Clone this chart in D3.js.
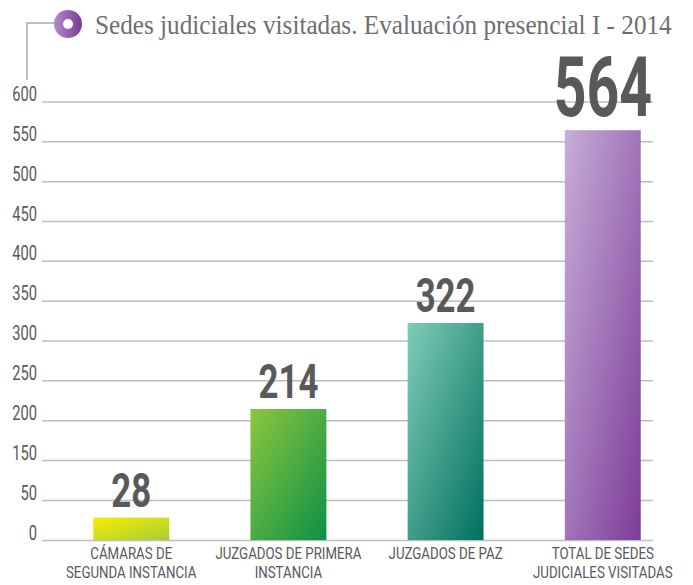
<!DOCTYPE html>
<html>
<head>
<meta charset="utf-8">
<script src="https://cdn.jsdelivr.net/npm/d3@7"></script>
<style>
  body { margin: 0; background: #fff; }
  svg { display: block; }
</style>
</head>
<body>
<div id="chart"></div>
<script>
const title = "Sedes judiciales visitadas. Evaluación presencial I - 2014";
const categories = [
  ["CÁMARAS DE", "SEGUNDA INSTANCIA"],
  ["JUZGADOS DE PRIMERA", "INSTANCIA"],
  ["JUZGADOS DE PAZ"],
  ["TOTAL DE SEDES", "JUDICIALES VISITADAS"]
];
const values = [28, 214, 322, 564];
const tickValues = [0, 50, 150, 200, 250, 300, 350, 400, 450, 500, 550, 600];
const barColors = [
  ["#f8ec00", "#a6ce39"],
  ["#8dc63f", "#0b9146"],
  ["#80ccb7", "#00705e"],
  ["#c6aed8", "#7d3c98"]
];

const width = 693, height = 585;
const textColor = "#58595b";

const svg = d3.select("#chart").append("svg")
  .attr("width", width)
  .attr("height", height);

const defs = svg.append("defs");

// the printed axis skips 100, so the scale is piecewise
const y = d3.scaleLinear()
  .domain([0, 50, 150, 600])
  .range([540, 500, 460, 101.5]);

const x = d3.scaleBand()
  .domain(d3.range(values.length))
  .range([12, 722])
  .padding(0.517);

// gradients
barColors.forEach((c, i) => {
  const g = defs.append("linearGradient")
    .attr("id", "bar" + i)
    .attr("x1", 0).attr("y1", 0).attr("x2", 1).attr("y2", 1);
  g.append("stop").attr("offset", "0%").attr("stop-color", c[0]);
  g.append("stop").attr("offset", "100%").attr("stop-color", c[1]);
});
const iconGrad = defs.append("linearGradient").attr("id", "icon");
iconGrad.append("stop").attr("offset", "0%").attr("stop-color", "#b18cc9");
iconGrad.append("stop").attr("offset", "100%").attr("stop-color", "#7a3a96");

// title
svg.append("path")
  .attr("d", "M55,23H27V80")
  .attr("fill", "none")
  .attr("stroke", "#a7a9ac")
  .attr("stroke-width", 1.5);
svg.append("circle").attr("cx", 68).attr("cy", 24).attr("r", 14).attr("fill", "url(#icon)");
svg.append("circle").attr("cx", 68).attr("cy", 24).attr("r", 5).attr("fill", "#fff");
const titleText = svg.append("text")
  .attr("text-anchor", "start")
  .attr("font-family", "'Liberation Serif', serif")
  .attr("font-size", 27)
  .attr("fill", "#6d6e71")
  .text(title);
// squeeze the title to the width it takes in the original
const titleLen = titleText.node().getComputedTextLength();
const titleScale = Math.min(1, 577 / titleLen);
titleText.attr("transform", `translate(95,34) scale(${titleScale},1)`);

// axis + gridlines
const axis = svg.append("g")
  .attr("transform", "translate(42,0)")
  .call(d3.axisLeft(y).tickValues(tickValues).tickSize(-(653 - 42)).tickFormat(d3.format("d")));
axis.select(".domain").remove();
axis.selectAll(".tick line")
  .attr("stroke", "#bcbec0")
  .attr("stroke-width", 1.5);
axis.selectAll(".tick text")
  .attr("x", null)
  .attr("dy", null)
  .attr("transform", "translate(-5,-1) scale(0.7,1)")
  .attr("font-family", "Roboto, sans-serif")
  .attr("font-size", 21)
  .attr("fill", textColor)
  .attr("text-anchor", "end");

// bars
svg.append("g").selectAll("rect")
  .data(values)
  .join("rect")
  .attr("x", (d, i) => x(i))
  .attr("y", d => y(d))
  .attr("width", x.bandwidth())
  .attr("height", d => y(0) - y(d))
  .attr("fill", (d, i) => `url(#bar${i})`);

// value labels
svg.append("g").selectAll("text")
  .data(values)
  .join("text")
  .attr("transform", (d, i) => {
    const big = i === values.length - 1;
    const cx = x(i) + x.bandwidth() / 2;
    return `translate(${cx},${y(d) - (big ? 14 : 11)}) scale(${big ? 0.68 : 0.71},1)`;
  })
  .attr("text-anchor", "middle")
  .attr("font-family", "Roboto, sans-serif")
  .attr("font-weight", 700)
  .attr("font-size", (d, i) => i === values.length - 1 ? 84 : 49)
  .attr("fill", textColor)
  .text(d => d);

// category labels
const cat = svg.append("g").selectAll("text")
  .data(categories)
  .join("text")
  .attr("transform", (d, i) => `translate(${x(i) + x.bandwidth() / 2},559) scale(0.83,1)`)
  .attr("text-anchor", "middle")
  .attr("font-family", "Roboto, sans-serif")
  .attr("font-size", 16)
  .attr("fill", textColor);
cat.selectAll("tspan")
  .data(d => d)
  .join("tspan")
  .attr("x", 0)
  .attr("y", (d, i) => i * 19)
  .text(d => d);
</script>
</body>
</html>
